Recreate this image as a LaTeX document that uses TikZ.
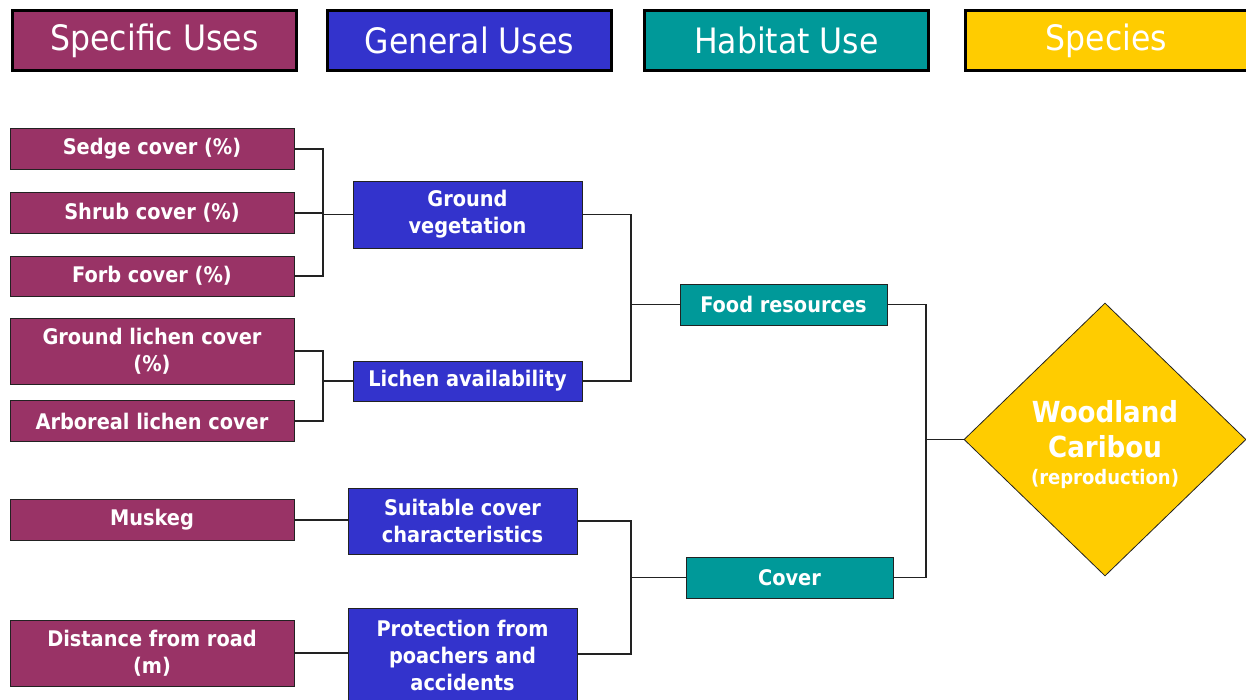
\documentclass[tikz,border=0pt]{standalone}
\usepackage{fontspec}
\setmainfont{DejaVu Sans Condensed}
\usetikzlibrary{shapes.geometric}
\definecolor{specific}{HTML}{993366}
\definecolor{general}{HTML}{3333CC}
\definecolor{habitat}{HTML}{009999}
\definecolor{species}{HTML}{FFCC00}
\definecolor{edge}{HTML}{222222}
\tikzset{
  head/.style={draw=black, line width=3pt, minimum height=60pt, text=white,
    font=\fontsize{35}{38}\selectfont, inner sep=0pt, anchor=north west},
  box/.style={draw=edge, line width=0.8pt, text=white, align=center,
    font=\bfseries\fontsize{21.5}{27}\selectfont, inner sep=0pt},
  spec/.style={box, fill=specific, minimum width=284pt},
  gen/.style={box, fill=general, minimum width=229pt},
  hab/.style={box, fill=habitat, minimum width=207pt, minimum height=41pt},
  link/.style={draw=edge, line width=1.2pt},
}
\begin{document}
\begin{tikzpicture}[x=1pt, y=-1pt]
\useasboundingbox (0,0) rectangle (1246,700);

% column headers
\node[head, fill=specific, minimum width=284pt] (h1) at (11,9) {Specific Uses};
\node[head, fill=general, minimum width=284pt] (h2) at (326,9) {General Uses};
\node[head, fill=habitat, minimum width=284pt] (h3) at (643,9) {Habitat Use};
\node[head, fill=species, minimum width=300pt] (h4) at (964,9) {\hspace*{-18pt}Species};

% specific uses
\node[spec, minimum height=41pt] (sedge) at (152,149) {Sedge cover (\%)};
\node[spec, minimum height=41pt] (shrub) at (152,213) {Shrub cover (\%)};
\node[spec, minimum height=40pt] (forb) at (152,276) {Forb cover (\%)};
\node[spec, minimum height=66pt] (glichen) at (152,351) {Ground lichen cover\\(\%)};
\node[spec, minimum height=41pt] (alichen) at (152,421) {Arboreal lichen cover};
\node[spec, minimum height=41pt] (muskeg) at (152,520) {Muskeg};
\node[spec, minimum height=66pt] (road) at (152,653) {Distance from road\\(m)};

% general uses
\node[gen, minimum height=67pt] (veg) at (467.5,214.5) {Ground\\vegetation};
\node[gen, minimum height=40pt] (lichen) at (467.5,381) {Lichen availability};
\node[gen, minimum height=66pt] (suit) at (462.5,521) {Suitable cover\\characteristics};
\node[gen, minimum height=94pt] (prot) at (462.5,655) {Protection from\\poachers and\\accidents};

% habitat use
\node[hab] (food) at (783.5,304.5) {Food resources};
\node[hab] (cover) at (789.5,577.5) {Cover};

% species
\node[diamond, draw=edge, line width=0.8pt, fill=species, minimum width=282pt,
  minimum height=273pt, inner sep=0pt, text=white, align=center,
  font=\bfseries\fontsize{29}{35}\selectfont] (caribou) at (1105,439.5) {};
\node[text=white, align=center, font=\bfseries\fontsize{29}{35}\selectfont]
  (caribou-text) at (1105,445)
  {Woodland\\Caribou\\[-8pt]\fontsize{20}{24}\selectfont(reproduction)};

% brackets: specific -> general
\coordinate (j1) at (323,214.5);
\draw[link] (sedge.east) -- (sedge.east -| j1) -- (forb.east -| j1) -- (forb.east);
\draw[link] (shrub.east) -- (shrub.east -| j1);
\draw[link] (veg.west -| j1) -- (veg.west);

\coordinate (j2) at (323,381);
\draw[link] (glichen.east) -- (glichen.east -| j2) -- (alichen.east -| j2) -- (alichen.east);
\draw[link] (lichen.west -| j2) -- (lichen.west);

\draw[link] (muskeg.east) -- (muskeg.east -| suit.west);
\draw[link] (road.east) -- (road.east -| prot.west);

% brackets: general -> habitat
\coordinate (j3) at (631,304.5);
\draw[link] (veg.east) -- (veg.east -| j3) -- (lichen.east -| j3) -- (lichen.east);
\draw[link] (food.west -| j3) -- (food.west);

\coordinate (j4) at (631,577.5);
\coordinate (p4) at (577,654);
\draw[link] (suit.east) -- (suit.east -| j4) -- (p4 -| j4) -- (p4);
\draw[link] (cover.west -| j4) -- (cover.west);

% bracket: habitat -> species
\coordinate (j5) at (926,439.5);
\draw[link] (food.east) -- (food.east -| j5) -- (cover.east -| j5) -- (cover.east);
\draw[link] (caribou.west -| j5) -- (caribou.west);
\end{tikzpicture}
\end{document}
